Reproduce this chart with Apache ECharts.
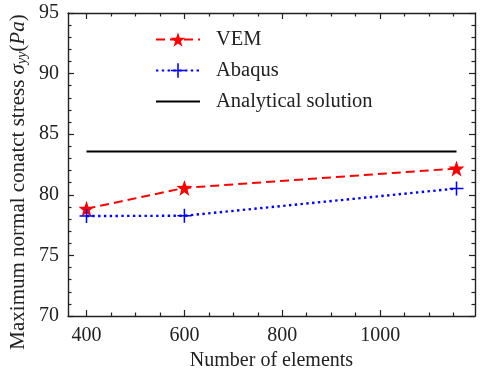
<!DOCTYPE html>
<html>
<head>
<meta charset="utf-8">
<script src="https://cdn.jsdelivr.net/npm/echarts@6/dist/echarts.min.js"></script>
<style>html,body{margin:0;padding:0;background:#fff}#c{width:484px;height:372px}</style>
</head>
<body>
<div id="c"></div>
<script>
const elements = [400, 600, 1156];
const vemValues = [78.85, 80.57, 82.17];
const abaqusValues = [78.25, 78.27, 80.52];
const analyticalValue = 83.58;
const xMajorTicks = [400, 600, 800, 1000];
const xMinorTicks = [450, 500, 550, 650, 700, 750, 850, 900, 950, 1050, 1100, 1150];
const xRange = [362.2, 1193.8];
const yRange = [70, 95];

const FONT = 'Liberation Serif';
const AX = '#222';
const star = 'path://M0,-10 L2.35,-3.24 L9.51,-3.09 L3.8,1.24 L5.88,8.09 L0,4 L-5.88,8.09 L-3.8,1.24 L-9.51,-3.09 L-2.35,-3.24 Z';
const plus = 'path://M-1.1,-10 L1.1,-10 L1.1,-1.1 L10,-1.1 L10,1.1 L1.1,1.1 L1.1,10 L-1.1,10 L-1.1,1.1 L-10,1.1 L-10,-1.1 L-1.1,-1.1 Z';

function xAx(pos, major, showLine, showLabel) {
  return {
    type: 'value', position: pos, min: xRange[0], max: xRange[1],
    axisLine: {show: showLine, onZero: false, lineStyle: {color: AX, width: 1.4}},
    axisTick: {show: true, inside: true, length: major ? 6 : 3.5, customValues: major ? xMajorTicks : xMinorTicks, lineStyle: {color: AX, width: 1.2}},
    axisLabel: {show: showLabel, customValues: xMajorTicks, formatter: v => String(v), color: '#222', fontFamily: FONT, fontSize: 20, margin: 10},
    splitLine: {show: false}
  };
}
function yAx(pos, showLabel) {
  return {
    type: 'value', position: pos, min: yRange[0], max: yRange[1], interval: 5,
    axisLine: {show: true, onZero: false, lineStyle: {color: AX, width: 1.4}},
    axisTick: {show: true, inside: true, length: 6, lineStyle: {color: AX, width: 1.2}},
    minorTick: {show: true, splitNumber: 5, length: 3.5, lineStyle: {color: AX, width: 1.2}},
    axisLabel: {show: showLabel, color: '#222', fontFamily: FONT, fontSize: 20, margin: 9},
    splitLine: {show: false}
  };
}

const chart = echarts.init(document.getElementById('c'), null, {renderer: 'canvas'});
chart.setOption({
  animation: false,
  backgroundColor: '#fff',
  grid: {left: 68, right: 9, top: 13, bottom: 56, containLabel: false, outerBoundsMode: 'none'},
  xAxis: [
    Object.assign(xAx('bottom', true, true, true), {
      name: 'Number of elements', nameLocation: 'middle', nameGap: 35,
      nameTextStyle: {color: '#222', fontFamily: FONT, fontSize: 20}
    }),
    xAx('bottom', false, false, false),
    xAx('top', true, true, false),
    xAx('top', false, false, false)
  ],
  yAxis: [yAx('left', true), yAx('right', false)],
  legend: {
    orient: 'vertical', left: 155, top: 29, padding: 0, itemWidth: 44, itemHeight: 18, itemGap: 10,
    textStyle: {color: '#222', fontFamily: FONT, fontSize: 20.5, lineHeight: 18, padding: [0, 0, 0, 11]},
    data: ['VEM', 'Abaqus', {name: 'Analytical solution', itemStyle: {opacity: 0}}]
  },
  graphic: [{
    type: 'text', x: 18, y: 182, rotation: Math.PI / 2,
    style: {
      text: 'Maximum normal conatct stress {i|σ}{s|yy}({i|Pa})',
      fontFamily: FONT, fontSize: 21, fill: '#222', align: 'center', verticalAlign: 'middle',
      rich: {
        i: {fontFamily: FONT, fontSize: 21, fontStyle: 'italic', fill: '#222'},
        s: {fontFamily: FONT, fontSize: 14, fontStyle: 'italic', fill: '#222', verticalAlign: 'bottom', padding: [8, 0, 0, 0]}
      }
    }
  }],
  series: [
    {
      name: 'VEM', type: 'line', xAxisIndex: 0, yAxisIndex: 0,
      data: elements.map((e, i) => [e, vemValues[i]]),
      lineStyle: {color: '#f00', width: 2, type: [9, 5]},
      itemStyle: {color: '#f00'}, symbol: star, symbolSize: 16, z: 3
    },
    {
      name: 'Abaqus', type: 'line', xAxisIndex: 0, yAxisIndex: 0,
      data: elements.map((e, i) => [e, abaqusValues[i]]),
      lineStyle: {color: '#00f', width: 2.4, type: [2.4, 3.4]},
      itemStyle: {color: '#00f'}, symbol: plus, symbolSize: 14, z: 3
    },
    {
      name: 'Analytical solution', type: 'line', xAxisIndex: 0, yAxisIndex: 0,
      data: [[elements[0], analyticalValue], [elements[elements.length - 1], analyticalValue]],
      lineStyle: {color: '#000', width: 2}, itemStyle: {color: '#000'}, symbol: 'none', z: 2
    }
  ]
});
</script>
</body>
</html>
